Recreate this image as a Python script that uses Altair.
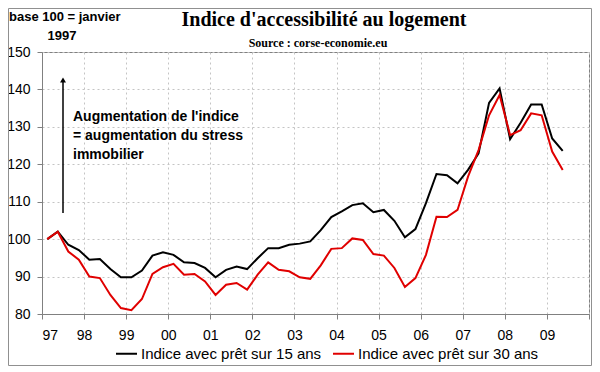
import altair as alt
import pandas as pd

# ---------------- data ----------------
tick_labels = ["97", "98", "99", "00", "01", "02", "03", "04", "05", "06", "07", "08", "09"]
series_names = ["Indice avec prêt sur 15 ans", "Indice avec prêt sur 30 ans"]
series_colors = ["#000000", "#e00000"]
y_ticks = [80, 90, 100, 110, 120, 130, 140, 150]

# quarterly index, Q1 1997 .. Q2 2009 (base 100 = janvier 1997)
idx_15 = [100.0, 102.0, 98.5, 97.1, 94.5, 94.7, 92.0, 89.8, 89.8, 91.6,
          95.6, 96.5, 95.8, 93.8, 93.6, 92.3, 89.8, 91.8, 92.7, 92.0,
          94.9, 97.6, 97.6, 98.5, 98.8, 99.4, 102.4, 105.9, 107.4, 109.1,
          109.6, 107.2, 107.8, 104.9, 100.5, 102.7, 109.6, 117.4, 117.1, 114.9,
          118.5, 122.9, 136.4, 140.3, 126.7, 131.1, 136.0, 136.0, 126.9, 123.6]
idx_30 = [100.0, 102.0, 96.7, 94.5, 90.0, 89.6, 85.1, 81.6, 81.0, 84.0,
          90.7, 92.5, 93.4, 90.5, 90.7, 88.7, 85.1, 87.8, 88.3, 86.5,
          90.5, 93.8, 91.8, 91.4, 89.8, 89.4, 93.0, 97.4, 97.6, 100.2,
          99.8, 96.0, 95.6, 92.3, 87.2, 89.6, 95.8, 106.0, 105.9, 107.8,
          116.7, 123.8, 133.1, 138.5, 127.8, 129.1, 133.6, 133.1, 123.4, 118.5]

title_text = "Indice d'accessibilité au logement"
subtitle_text = "Source : corse-economie.eu"
base_text = ["base 100 = janvier", "1997"]
note_lines = ["Augmentation de l'indice", "= augmentation du stress", "immobilier"]

# ---------------- build ----------------
rows = []
for name, vals in zip(series_names, [idx_15, idx_30]):
    for i, v in enumerate(vals):
        rows.append({"q": i + 0.5, "v": v, "serie": name})
df = pd.DataFrame(rows)

n_cat = 4 * len(tick_labels)
x_ticks = list(range(0, n_cat + 1, 4))
label_expr = "[" + ",".join("'%s'" % t for t in tick_labels) + ",''][round(datum.value/4)]"

W, H = 547, 262
PAD_B = 52
SANS = "Liberation Sans"
SERIF = "Liberation Serif"

lines = alt.Chart(df).mark_line(strokeWidth=2).encode(
    x=alt.X("q:Q",
            scale=alt.Scale(domain=[0, n_cat], nice=False, zero=False),
            axis=alt.Axis(values=x_ticks, labelExpr=label_expr, title=None,
                          grid=True, labelPadding=9, labelFontSize=14)),
    y=alt.Y("v:Q",
            scale=alt.Scale(domain=[80, 150], nice=False, zero=False),
            axis=alt.Axis(values=y_ticks, title=None, grid=True,
                          labelPadding=7, labelFontSize=14)),
    color=alt.Color("serie:N",
                    scale=alt.Scale(domain=series_names, range=series_colors),
                    legend=alt.Legend(title=None, orient="none", legendX=73, legendY=290,
                                      direction="horizontal", symbolType="stroke",
                                      symbolSize=441, symbolStrokeWidth=2,
                                      labelFont=SANS, labelFontSize=15, labelColor="black",
                                      labelLimit=0, labelOffset=3, columnPadding=7,
                                      padding=0)),
    order=alt.Order("q:Q"),
)


def txt(text, x, y, **kw):
    return alt.Chart(alt.Data(values=[{"t": text}])).mark_text(**kw).encode(
        x=alt.value(x), y=alt.value(y), text="t:N")


title = txt(title_text, 282, -32, font=SERIF, fontSize=20, fontWeight="bold",
            align="center", baseline="middle", color="black")
subtitle = txt(subtitle_text, 276, -9, font=SERIF, fontSize=12, fontWeight="bold",
               align="center", baseline="middle", color="black")
base1 = txt(base_text[0], -33, -35, font=SANS, fontSize=13, fontWeight="bold",
            align="left", baseline="middle", color="black")
base2 = txt(base_text[1], 20, -16, font=SANS, fontSize=13, fontWeight="bold",
            align="center", baseline="middle", color="black")
notes = [txt(t, 31, 65 + 19 * k, font=SANS, fontSize=14, fontWeight="bold",
             align="left", baseline="middle", color="black")
         for k, t in enumerate(note_lines)]

one = alt.Data(values=[{"k": 1}])
arrow_line = alt.Chart(one).mark_rule(color="black", strokeWidth=1.5).encode(
    x=alt.value(21), y=alt.value(30), y2=alt.value(161))
arrow_head = alt.Chart(one).mark_point(shape="triangle-up", filled=True, color="black",
                                       size=35, opacity=1).encode(
    x=alt.value(21), y=alt.value(28))
frame = alt.Chart(one).mark_rect(fill=None, filled=False, stroke="#909090", strokeWidth=1).encode(
    x=alt.value(-33.5), x2=alt.value(W + 2.5), y=alt.value(-43.5), y2=alt.value(H + PAD_B - 0.5))

chart = alt.layer(
    frame, lines, arrow_line, arrow_head, title, subtitle, base1, base2, *notes
).properties(
    width=W, height=H, autosize="none",
    padding={"left": 34, "top": 44, "right": 3, "bottom": PAD_B},
    background="white",
).configure_view(
    stroke="#808080", strokeWidth=1
).configure_axis(
    domainColor="#808080", tickColor="#808080", tickSize=5,
    gridColor="#c4c4c4", gridDash=[2, 3], gridWidth=1,
    labelFont=SANS, labelColor="black",
)

chart.save("out.html", embed_options={"renderer": "svg", "actions": False})
